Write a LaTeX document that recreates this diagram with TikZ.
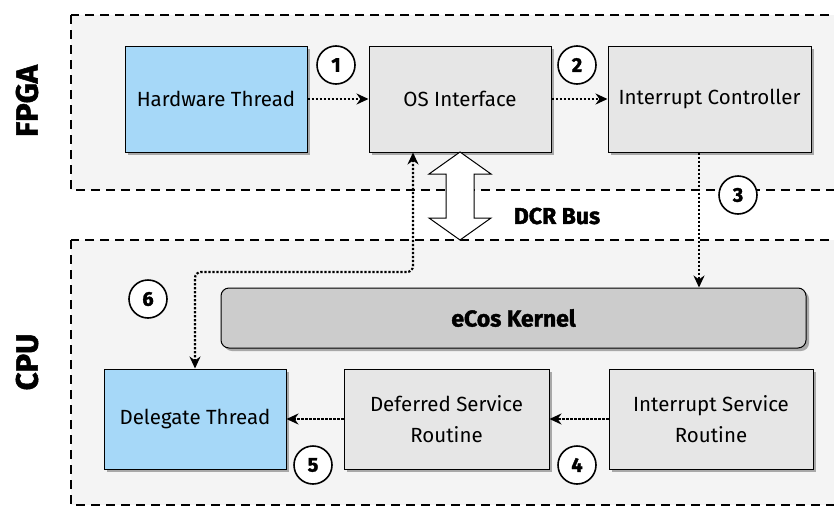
\documentclass[tikz,border=0pt]{standalone}
\usepackage{fontspec}
\setmainfont{Fira Sans}
\newfontfamily\heavyfont[BoldFeatures={FakeBold=1.6}]{Fira Sans}
\usetikzlibrary{arrows.meta,shadows}
\definecolor{thrblue}{HTML}{A6D8F8}
\definecolor{boxgray}{HTML}{E6E6E6}
\definecolor{kerngray}{HTML}{CCCCCC}
\definecolor{areagray}{HTML}{F4F4F4}
\definecolor{shadgray}{HTML}{A8A8A8}
\tikzset{
  area/.style={draw=black, fill=areagray, line width=1.5pt, dash pattern=on 9pt off 6pt},
  block/.style={draw=black, fill=boxgray, line width=1pt, align=center,
    font=\fontsize{20.5}{31}\selectfont, inner sep=0pt,
    drop shadow={shadow xshift=3pt, shadow yshift=-3pt, fill=shadgray, opacity=1}},
  thread/.style={block, fill=thrblue},
  flow/.style={line width=2.2pt, dash pattern=on 2.2pt off 1.8pt, -{Stealth[length=12pt,width=11pt]}},
  stepnum/.style={circle, draw=black, fill=white, line width=1.6pt, minimum size=38pt,
    inner sep=0pt, font=\fontsize{20}{20}\selectfont\heavyfont\bfseries},
  arealabel/.style={rotate=90, font=\fontsize{31}{31}\selectfont\heavyfont\bfseries}
}

\begin{document}
\begin{tikzpicture}[x=1pt,y=-1pt]
\useasboundingbox (0,0) rectangle (834,506);

\begin{scope}
\clip (0,0) rectangle (834,506);
\draw[area] (71,15) rectangle (860,190);
\draw[area] (71,240) rectangle (860,505);
\end{scope}

\node[arealabel] (fpga) at (27,101) {FPGA};
\node[arealabel] (cpu) at (27,362) {CPU};

\node[thread, minimum width=182pt, minimum height=106pt] (hw) at (216,99) {Hardware Thread};
\node[block, minimum width=182pt, minimum height=106pt] (os) at (460,99) {OS Interface};
\node[block, minimum width=203pt, minimum height=106pt] (ic) at (709.5,99) {Interrupt Controller};

\node[block, fill=kerngray, rounded corners=8pt, minimum width=585pt, minimum height=60pt,
  font=\fontsize{23}{26}\selectfont\heavyfont\bfseries] (kernel) at (513.5,318) {eCos Kernel};

\node[thread, minimum width=182pt, minimum height=100pt] (dt) at (195,419) {Delegate Thread};
\node[block, minimum width=205pt, minimum height=100pt] (dsr) at (446.5,419) {Deferred Service\\Routine};
\node[block, minimum width=204pt, minimum height=100pt] (isr) at (711,419) {Interrupt Service\\Routine};

% DCR bus
\draw[fill=white, line width=1pt] (460,152) -- (491,174) -- (474,174) -- (474,218) -- (491,218)
  -- (460,240) -- (429,218) -- (446,218) -- (446,174) -- (429,174) -- cycle;
\node[font=\fontsize{23}{23}\selectfont\heavyfont\bfseries] (bus) at (557,216) {DCR Bus};

\coordinate (bend) at (195,272);

\draw[flow] (hw) -- (os);
\draw[flow] (os) -- (ic);
\draw[flow] ([xshift=-10.5pt]ic.south) -- ([xshift=-10.5pt]ic.south |- kernel.north);
\draw[flow] (isr) -- (dsr);
\draw[flow] (dsr) -- (dt);
\draw[flow, {Stealth[length=12pt,width=11pt]}-{Stealth[length=12pt,width=11pt]}, rounded corners=6pt]
  ([xshift=-47pt]os.south) |- (bend) -- (dt.north);

\foreach \n/\x/\y in {1/336/65, 2/577/65, 3/738/195, 4/577/465, 5/313/465, 6/148/299}
  \node[stepnum] (n\n) at (\x,\y) {\n};

\end{tikzpicture}
\end{document}
